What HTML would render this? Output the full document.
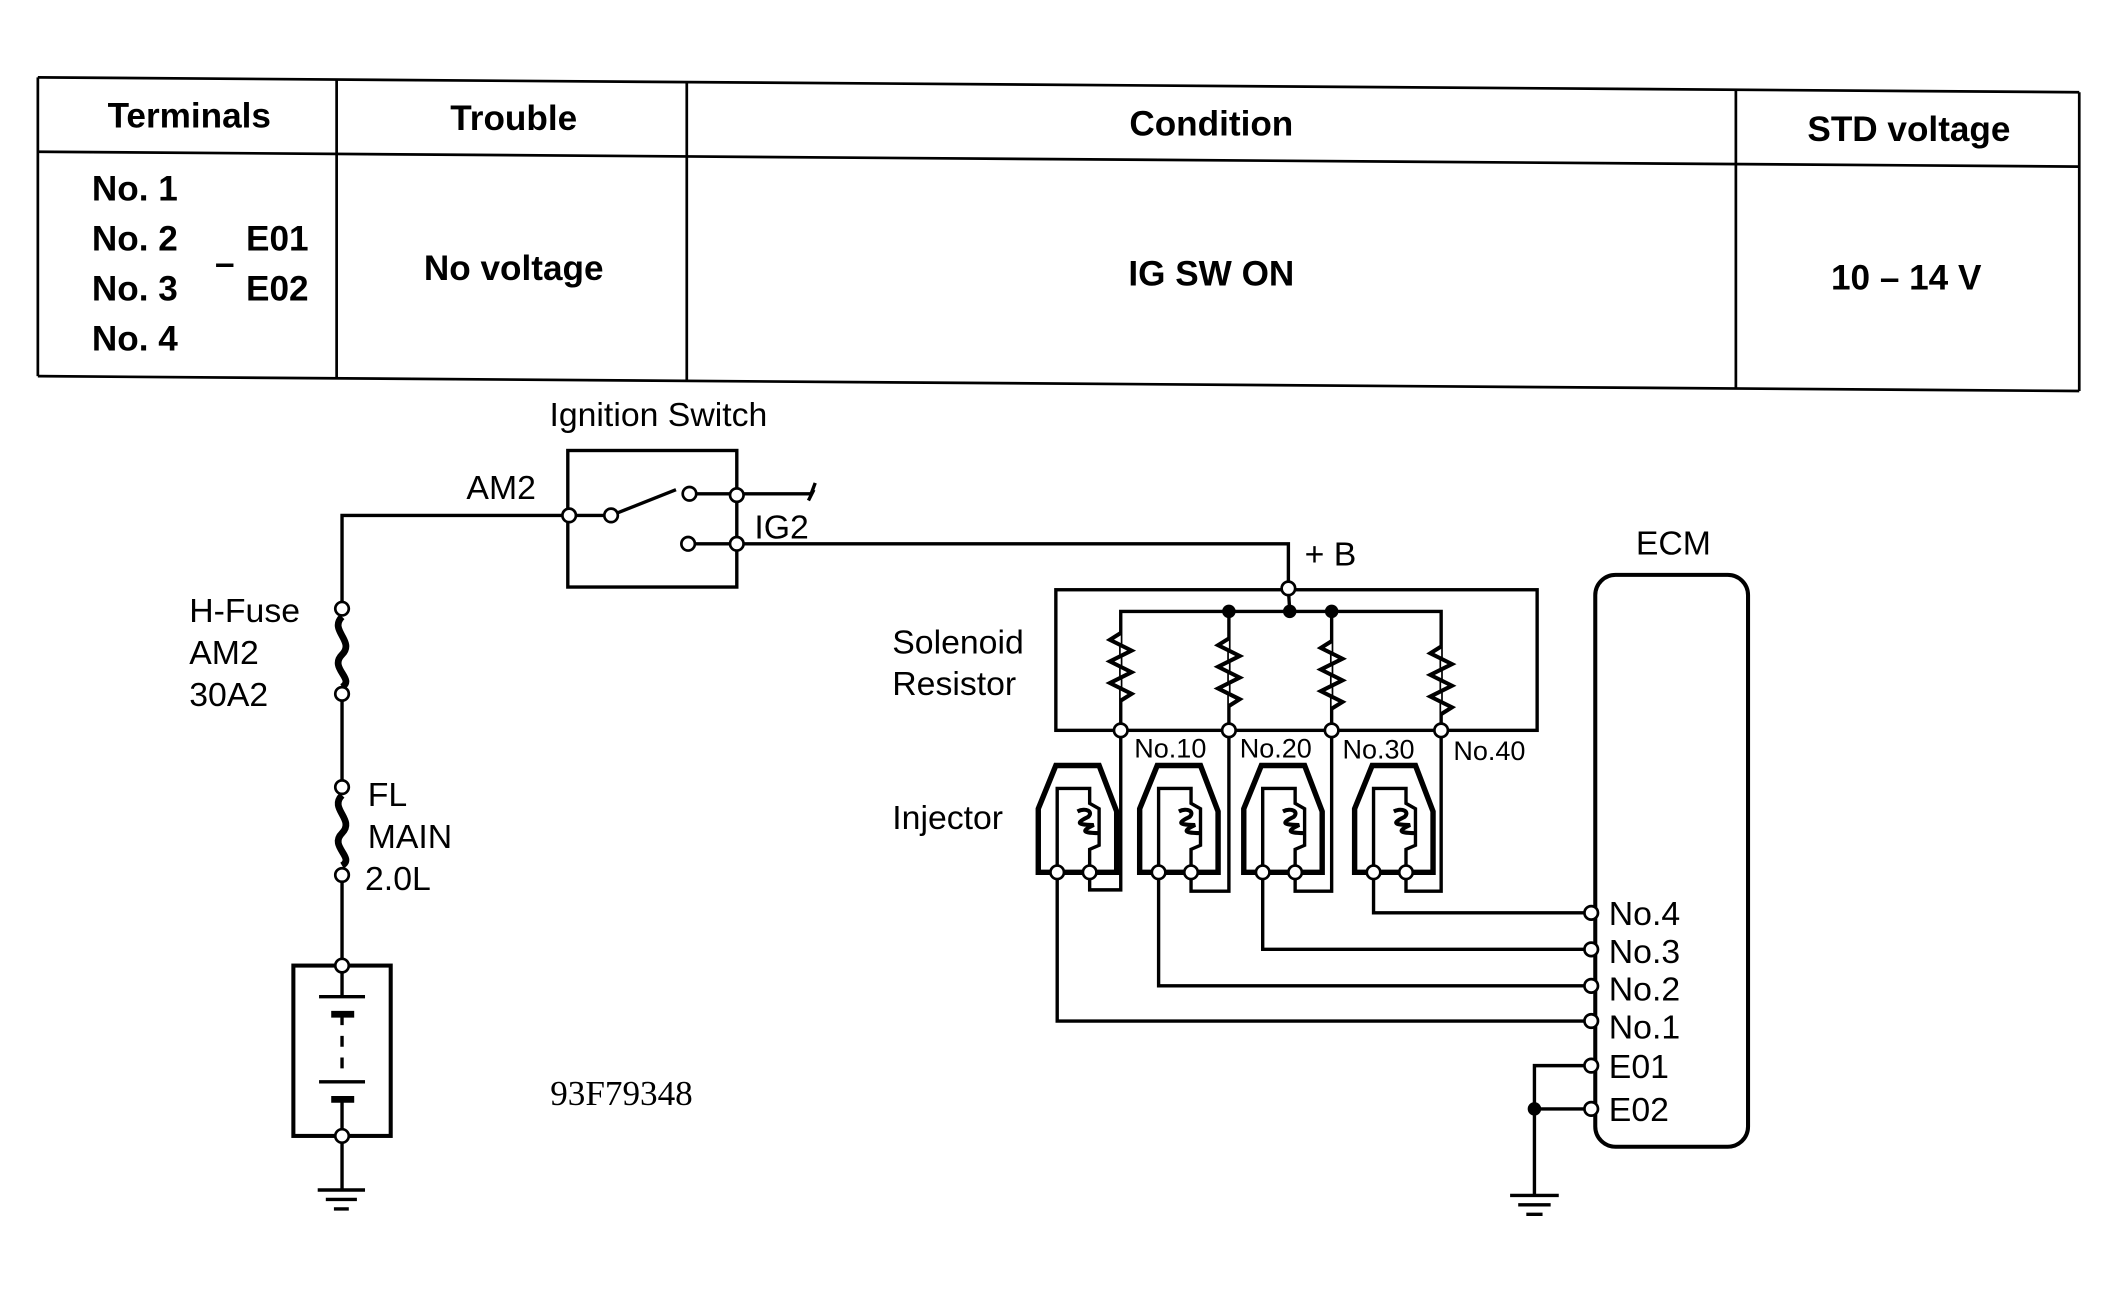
<!DOCTYPE html>
<html><head><meta charset="utf-8"><style>
html,body{margin:0;padding:0;background:#fff}
svg{display:block}
text{font-family:"Liberation Sans",sans-serif;fill:#000}
.b{font-weight:bold;font-size:26px}
.n{font-size:25px}
.s{font-size:20px}
</style></head><body>
<svg width="2109" height="1289" viewBox="0 0 1560 953" xmlns="http://www.w3.org/2000/svg">
<g stroke="#000" stroke-width="2" fill="none">
<line x1="28" y1="57" x2="1538" y2="68"/>
<line x1="28" y1="112" x2="1538" y2="123"/>
<line x1="28" y1="278" x2="1538" y2="289"/>
<line x1="28" y1="57" x2="28" y2="278"/>
<line x1="249" y1="58" x2="249" y2="279"/>
<line x1="508" y1="61" x2="508" y2="281"/>
<line x1="1284" y1="66" x2="1284" y2="287"/>
<line x1="1538" y1="68" x2="1538" y2="289"/>
</g>
<text class="b" x="140" y="94" text-anchor="middle">Terminals</text>
<text class="b" x="380" y="96" text-anchor="middle">Trouble</text>
<text class="b" x="896" y="100" text-anchor="middle">Condition</text>
<text class="b" x="1412" y="104" text-anchor="middle">STD voltage</text>
<text class="b" x="68" y="148">No. 1</text>
<text class="b" x="68" y="185">No. 2</text>
<text class="b" x="68" y="222">No. 3</text>
<text class="b" x="68" y="259">No. 4</text>
<text class="b" x="182" y="185">E01</text>
<text class="b" x="182" y="222">E02</text>
<text class="b" x="159" y="203">–</text>
<text class="b" x="380" y="207" text-anchor="middle">No voltage</text>
<text class="b" x="896" y="211" text-anchor="middle">IG SW ON</text>
<text class="b" x="1410" y="214" text-anchor="middle">10 – 14 V</text>

<g stroke="#000" stroke-width="2.5" fill="none">
<rect x="420" y="333" width="125" height="101"/>
<polyline points="421,381 253,381 253,450"/>
<line x1="421" y1="381" x2="452" y2="381"/>
<line x1="452" y1="381" x2="500" y2="362"/>
<line x1="510" y1="365" x2="600" y2="365"/>
<path d="M600,365 l3,-8 M598,370 l4,-8"/>
<line x1="509" y1="402" x2="545" y2="402"/>
<polyline points="545,402 953,402 953,435"/>
<path d="M253,456 c-10,10 10,18 0,28 c-10,10 10,18 0,24" stroke-width="5"/>
<line x1="253" y1="513" x2="253" y2="582"/>
<path d="M253,588 c-10,10 10,18 0,28 c-10,10 10,18 0,24" stroke-width="5"/>
<line x1="253" y1="647" x2="253" y2="714"/>
<rect x="217" y="714" width="72" height="126" stroke-width="3"/>
<line x1="236" y1="737" x2="270" y2="737"/><line x1="245" y1="750" x2="262" y2="750" stroke-width="5"/>
<line x1="253" y1="750" x2="253" y2="790" stroke-dasharray="8,8"/>
<line x1="236" y1="800" x2="270" y2="800"/><line x1="245" y1="813" x2="262" y2="813" stroke-width="5"/>
<line x1="253" y1="737" x2="253" y2="714"/><line x1="253" y1="813" x2="253" y2="880"/>
<line x1="235" y1="880" x2="270" y2="880"/><line x1="241" y1="887" x2="264" y2="887"/><line x1="247" y1="894" x2="258" y2="894"/>

<rect x="781" y="436" width="356" height="104"/>
<polyline points="829,540 829,452 1066,452 1066,540"/>
<line x1="909" y1="452" x2="909" y2="540"/>
<line x1="985" y1="452" x2="985" y2="540"/>
<line x1="953" y1="435" x2="954" y2="452"/>
<g fill="#fff" stroke-width="3">
<path d="M829,468 l-8,5 16,8 -16,8 16,8 -16,8 16,8 -8,5" />
<path d="M909,472 l-8,5 16,8 -16,8 16,8 -16,8 16,8 -8,5" />
<path d="M985,474 l-8,5 16,8 -16,8 16,8 -16,8 16,8 -8,5" />
<path d="M1066,478 l-8,5 16,8 -16,8 16,8 -16,8 16,8 -8,5" />
</g>
<rect x="1180" y="425" width="113" height="423" rx="15" stroke-width="3"/>
<polyline points="1177,788 1135,788 1135,884"/>
<line x1="1135" y1="820" x2="1177" y2="820"/>
<line x1="1117" y1="884" x2="1153" y2="884"/><line x1="1123" y1="891" x2="1147" y2="891"/><line x1="1129" y1="898" x2="1141" y2="898"/>
</g>
<g stroke="#000" stroke-width="2.5" fill="none">
<g id="inj">
<path d="M768,645 L768,598 L781,566 L813,566 L826,600 L826,645 Z" stroke-width="4"/>
<path d="M782,645 L782,583 L806,583 L806,594 L813,598 L813,625 L806,628 L806,645"/>
<path d="M797,600 c6,-3 12,0 8,4 c-6,3 -12,6 4,6 c-6,3 -12,6 4,6" stroke-width="3"/>
</g>
<use href="#inj" x="75"/><use href="#inj" x="152"/><use href="#inj" x="234"/>
<polyline points="806,645 806,658 829,658 829,540"/>
<polyline points="881,645 881,659 909,659 909,540"/>
<polyline points="958,645 958,659 985,659 985,540"/>
<polyline points="1040,645 1040,659 1066,659 1066,540"/>
<polyline points="782,645 782,755 1177,755"/>
<polyline points="857,645 857,729 1177,729"/>
<polyline points="934,645 934,702 1177,702"/>
<polyline points="1016,645 1016,675 1177,675"/>
</g>
<g stroke="#000" stroke-width="2" fill="#fff">
<circle cx="421" cy="381" r="5"/><circle cx="452" cy="381" r="5"/><circle cx="510" cy="365" r="5"/>
<circle cx="545" cy="366" r="5"/><circle cx="545" cy="402" r="5"/><circle cx="509" cy="402" r="5"/>
<circle cx="253" cy="450" r="5"/><circle cx="253" cy="513" r="5"/><circle cx="253" cy="582" r="5"/><circle cx="253" cy="647" r="5"/>
<circle cx="253" cy="714" r="5"/><circle cx="253" cy="840" r="5"/>
<circle cx="953" cy="435" r="5"/>
<circle cx="829" cy="540" r="5"/><circle cx="909" cy="540" r="5"/><circle cx="985" cy="540" r="5"/><circle cx="1066" cy="540" r="5"/>
<circle cx="782" cy="645" r="5"/><circle cx="806" cy="645" r="5"/>
<circle cx="857" cy="645" r="5"/><circle cx="881" cy="645" r="5"/>
<circle cx="934" cy="645" r="5"/><circle cx="958" cy="645" r="5"/>
<circle cx="1016" cy="645" r="5"/><circle cx="1040" cy="645" r="5"/>
<circle cx="1177" cy="675" r="5"/><circle cx="1177" cy="702" r="5"/><circle cx="1177" cy="729" r="5"/>
<circle cx="1177" cy="755" r="5"/><circle cx="1177" cy="788" r="5"/><circle cx="1177" cy="820" r="5"/>
</g>
<g fill="#000"><circle cx="909" cy="452" r="5"/><circle cx="954" cy="452" r="5"/><circle cx="985" cy="452" r="5"/><circle cx="1135" cy="820" r="5"/></g>

<text class="n" x="487" y="315" text-anchor="middle">Ignition Switch</text>
<text class="n" x="345" y="369">AM2</text>
<text class="n" x="558" y="398">IG2</text>
<text class="n" x="140" y="460">H-Fuse</text>
<text class="n" x="140" y="491">AM2</text>
<text class="n" x="140" y="522">30A2</text>
<text class="n" x="272" y="596">FL</text>
<text class="n" x="272" y="627">MAIN</text>
<text class="n" x="270" y="658">2.0L</text>
<text x="407" y="817" style="font-family:'Liberation Serif',serif;font-size:26px">93F79348</text>
<text class="n" x="965" y="418">+ B</text>
<text class="n" x="1210" y="410">ECM</text>
<text class="n" x="660" y="483">Solenoid</text>
<text class="n" x="660" y="514">Resistor</text>
<text class="n" x="660" y="613">Injector</text>
<text class="s" x="839" y="560">No.10</text>
<text class="s" x="917" y="560">No.20</text>
<text class="s" x="993" y="561">No.30</text>
<text class="s" x="1075" y="562">No.40</text>
<text class="n" x="1190" y="684">No.4</text>
<text class="n" x="1190" y="712">No.3</text>
<text class="n" x="1190" y="740">No.2</text>
<text class="n" x="1190" y="768">No.1</text>
<text class="n" x="1190" y="797">E01</text>
<text class="n" x="1190" y="829">E02</text>
</svg>
</body></html>
